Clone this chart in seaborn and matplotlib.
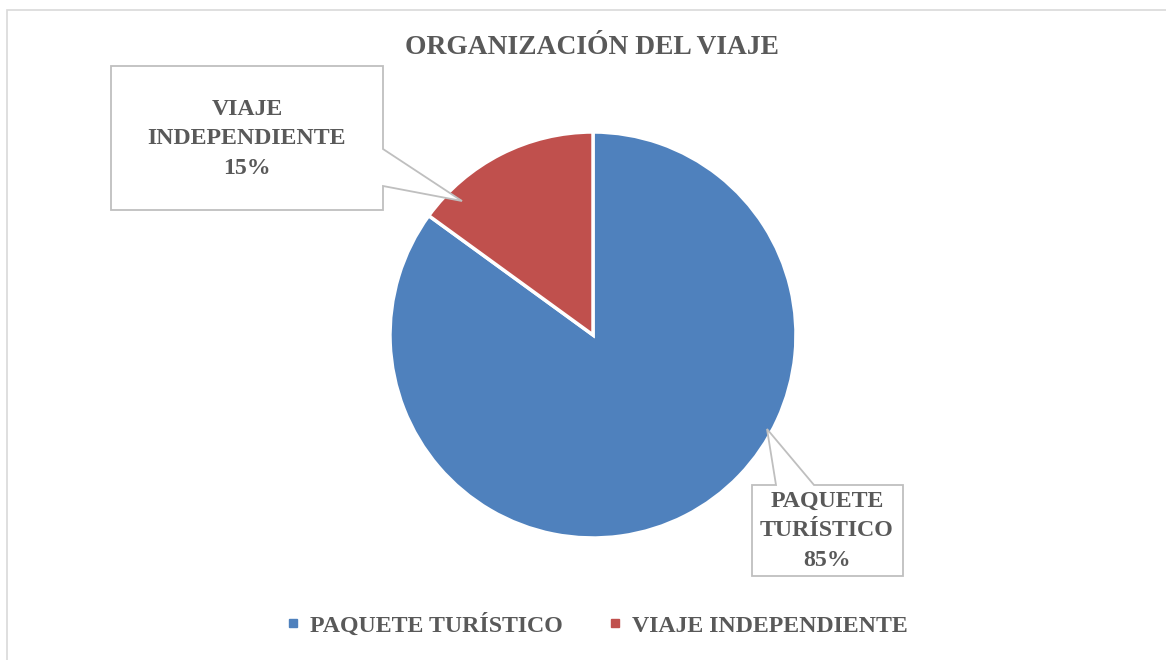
import matplotlib.pyplot as plt
import matplotlib.patches as mpatches
from matplotlib.lines import Line2D
import seaborn as sns

sns.set_theme(style="white")
plt.rcParams['font.family'] = ['Liberation Serif', 'DejaVu Serif']

categorias = ['PAQUETE TURÍSTICO', 'VIAJE INDEPENDIENTE']
porcentajes = [85, 15]
etiquetas = ['PAQUETE\nTURÍSTICO\n85%', 'VIAJE\nINDEPENDIENTE\n15%']
colores = ['#4F81BD', '#C0504D']
gris = '#595959'

W, H = 1166, 660
fig = plt.figure(figsize=(W / 100, H / 100), dpi=100)


def px(x, y):
    # pixel (top-left origin) -> figure fraction
    return (x / W, 1 - y / H)


# outer frame
fig.patches.append(mpatches.Rectangle(px(7, 670), 1200 / W, 660 / H, transform=fig.transFigure,
                                      fill=False, edgecolor='#d9d9d9', lw=1.2))

# pie axes: centre (593, 335), radius 203 px
cx, cy, r = 593, 335, 203
ax = fig.add_axes([(cx - r) / W, (H - cy - r) / H, 2 * r / W, 2 * r / H])
ax.pie(porcentajes, colors=colores, startangle=90, counterclock=False,
       wedgeprops=dict(edgecolor='white', linewidth=2.5))
ax.set_xlim(-1, 1)
ax.set_ylim(-1, 1)
ax.set_aspect('auto')
ax.axis('off')

fig.text(*px(592, 47), 'ORGANIZACIÓN DEL VIAJE', ha='center', va='center',
         fontsize=19.8, fontweight='bold', color=gris)

# callouts
callout_red = [(111, 66), (383, 66), (383, 149), (462, 201), (383, 186), (383, 210), (111, 210)]
callout_blue = [(752, 485), (776, 485), (767, 429), (814, 485), (903, 485), (903, 576), (752, 576)]
for pts in (callout_red, callout_blue):
    fig.patches.append(mpatches.Polygon([px(x, y) for x, y in pts], closed=True,
                                        transform=fig.transFigure, facecolor='white',
                                        edgecolor='#bfbfbf', lw=1.3, zorder=3))

fig.text(*px(247, 139), etiquetas[1], ha='center', va='center', fontsize=17.2,
         fontweight='bold', color=gris, linespacing=1.55, zorder=4)
fig.text(*px(827, 531), etiquetas[0], ha='center', va='center', fontsize=17.2,
         fontweight='bold', color=gris, linespacing=1.55, zorder=4)

handles = [Line2D([], [], marker='s', linestyle='none', markersize=5.5,
                  markerfacecolor=c, markeredgecolor=c) for c in colores]
fig.legend(handles, categorias, loc='center', bbox_to_anchor=px(597, 625), ncol=2,
           frameon=False, handlelength=0.6, handletextpad=0.4, columnspacing=1.9,
           prop=dict(size=17.2, weight='bold'), labelcolor=gris)

fig.savefig('out.png', dpi=100)
